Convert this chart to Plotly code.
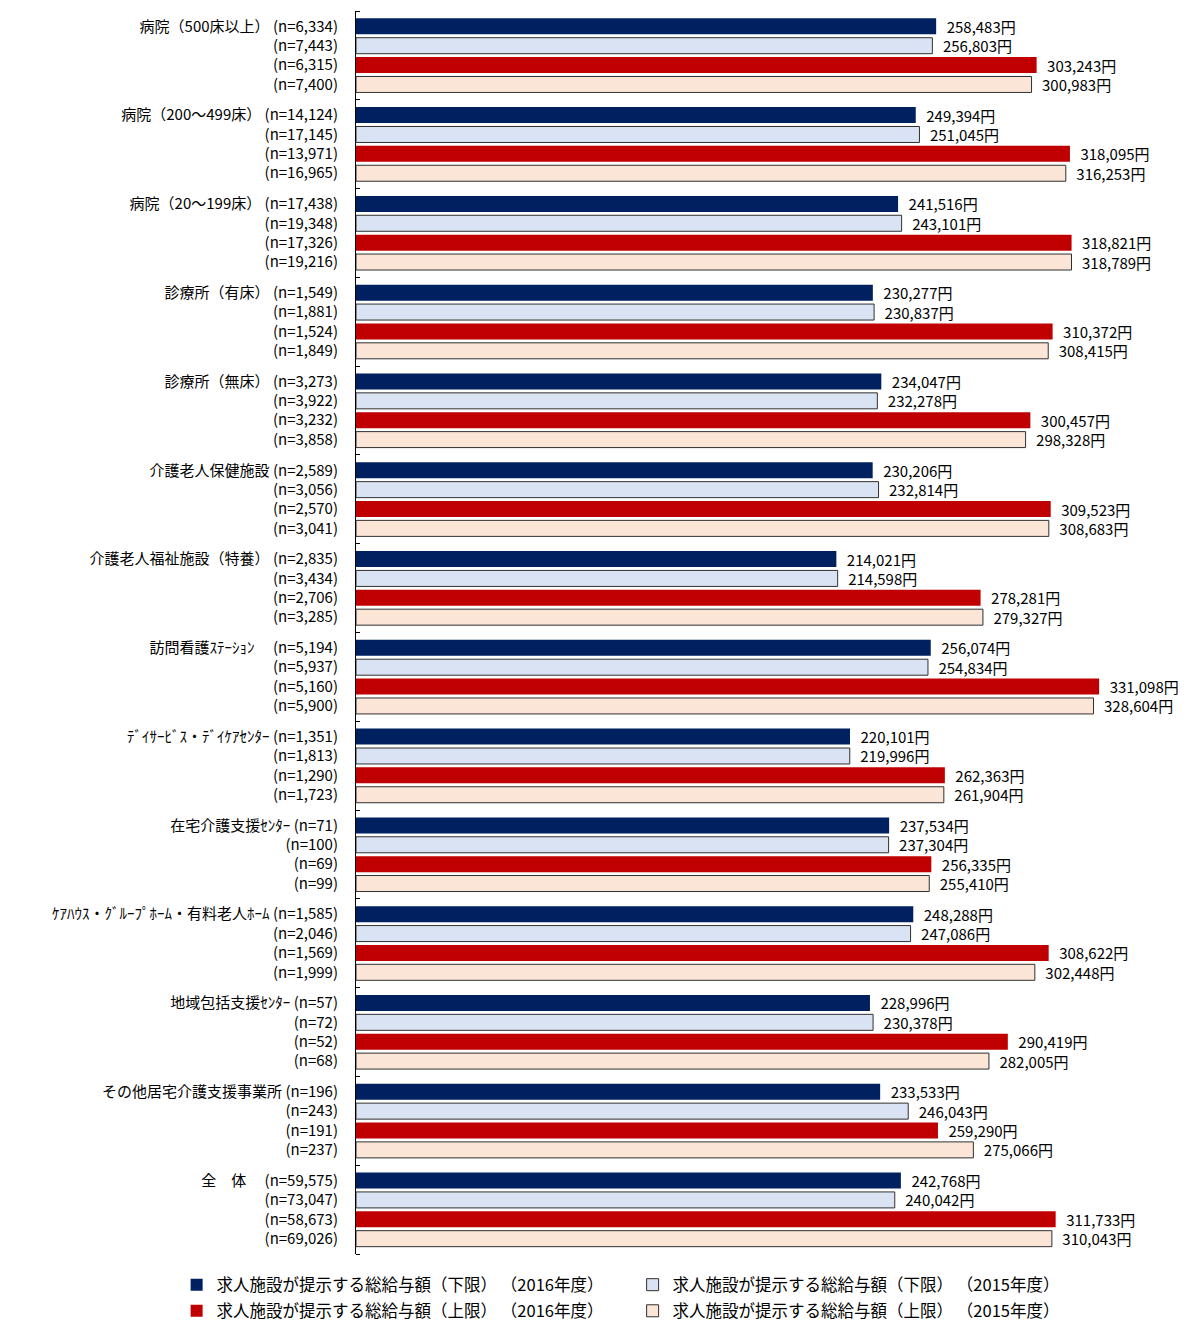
import plotly.graph_objects as go

# ---------------- data ----------------
groups = [
    "病院（500床以上）", "病院（200～499床）", "病院（20～199床）",
    "診療所（有床）", "診療所（無床）", "介護老人保健施設",
    "介護老人福祉施設（特養）", "訪問看護ｽﾃｰｼｮﾝ　", "ﾃﾞｲｻｰﾋﾞｽ・ﾃﾞｲｹｱｾﾝﾀｰ",
    "在宅介護支援ｾﾝﾀｰ", "ｹｱﾊｳｽ・ｸﾞﾙｰﾌﾟﾎｰﾑ・有料老人ﾎｰﾑ", "地域包括支援ｾﾝﾀｰ",
    "その他居宅介護支援事業所", "全　体　",
]

series_names = [
    "求人施設が提示する総給与額（下限） （2016年度）",
    "求人施設が提示する総給与額（下限） （2015年度）",
    "求人施設が提示する総給与額（上限） （2016年度）",
    "求人施設が提示する総給与額（上限） （2015年度）",
]

lower_2016 = [258483, 249394, 241516, 230277, 234047, 230206, 214021,
              256074, 220101, 237534, 248288, 228996, 233533, 242768]
lower_2015 = [256803, 251045, 243101, 230837, 232278, 232814, 214598,
              254834, 219996, 237304, 247086, 230378, 246043, 240042]
upper_2016 = [303243, 318095, 318821, 310372, 300457, 309523, 278281,
              331098, 262363, 256335, 308622, 290419, 259290, 311733]
upper_2015 = [300983, 316253, 318789, 308415, 298328, 308683, 279327,
              328604, 261904, 255410, 302448, 282005, 275066, 310043]

n_lower_2016 = [6334, 14124, 17438, 1549, 3273, 2589, 2835,
                5194, 1351, 71, 1585, 57, 196, 59575]
n_lower_2015 = [7443, 17145, 19348, 1881, 3922, 3056, 3434,
                5937, 1813, 100, 2046, 72, 243, 73047]
n_upper_2016 = [6315, 13971, 17326, 1524, 3232, 2570, 2706,
                5160, 1290, 69, 1569, 52, 191, 58673]
n_upper_2015 = [7400, 16965, 19216, 1849, 3858, 3041, 3285,
                5900, 1723, 99, 1999, 68, 237, 69026]

series_values = [lower_2016, lower_2015, upper_2016, upper_2015]
series_n = [n_lower_2016, n_lower_2015, n_upper_2016, n_upper_2015]

# ---------------- styles ----------------
fills = ["#002060", "#DAE3F3", "#C00000", "#FBE5D6"]
lines = [0, 1, 0, 1]
legend_ids = ["legend", "legend", "legend2", "legend2"]
FONT = "Noto Sans CJK JP, Noto Sans, sans-serif"

G = 4.582      # group pitch in row units
W = 0.825      # bar thickness in row units
ng = len(groups)

fig = go.Figure()
tickvals, ticktext = [], []
for i in range(4):
    ys = [g * G + i for g in range(ng)]
    fig.add_trace(go.Bar(
        orientation="h",
        x=series_values[i],
        y=ys,
        width=W,
        name=series_names[i],
        legend=legend_ids[i],
        marker=dict(color=fills[i], line=dict(color="#303030", width=lines[i])),
        texttemplate="\u2002%{x:,}円",
        textposition="outside",
        textfont=dict(family=FONT, size=15, color="#000000"),
        constraintext="none",
        cliponaxis=False,
        hoverinfo="skip",
    ))
    for g in range(ng):
        label = f"(n={series_n[i][g]:,})"
        if i == 0:
            label = groups[g] + " " + label
        tickvals.append(g * G + i)
        ticktext.append(label)

bounds = [g * G - (G - 3) / 2 for g in range(ng + 1)]

# page has an 8px body margin, so the figure is sized to fit inside the window
fig.update_layout(
    width=1181, height=1321,
    margin=dict(l=348, r=25, t=3, b=75, autoexpand=False),
    paper_bgcolor="white", plot_bgcolor="white",
    barmode="overlay",
    font=dict(family=FONT, size=15, color="#000000"),
    showlegend=True,
    legend=dict(orientation="h", x=-0.222, xanchor="left", y=-0.0249, yanchor="middle",
                entrywidth=411, entrywidthmode="pixels", traceorder="normal",
                font=dict(family=FONT, size=16.5, color="#000000"),
                bgcolor="rgba(0,0,0,0)"),
    legend2=dict(orientation="h", x=-0.222, xanchor="left", y=-0.0459, yanchor="middle",
                 entrywidth=411, entrywidthmode="pixels", traceorder="normal",
                 font=dict(family=FONT, size=16.5, color="#000000"),
                 bgcolor="rgba(0,0,0,0)"),
)
fig.update_xaxes(visible=False, range=[0, 360000], fixedrange=True)
fig.update_yaxes(
    range=[bounds[-1], bounds[0]],
    tickmode="array", tickvals=tickvals, ticktext=ticktext,
    ticks="", ticklabelstandoff=14,
    showline=True, linecolor="#000000", linewidth=1,
    showgrid=False, zeroline=False,
    tickfont=dict(family=FONT, size=15, color="#000000"),
    minor=dict(tickmode="array", tickvals=bounds, ticks="inside",
               ticklen=4, tickcolor="#000000", tickwidth=1, showgrid=False),
    fixedrange=True,
)

fig.write_html("out.html")
